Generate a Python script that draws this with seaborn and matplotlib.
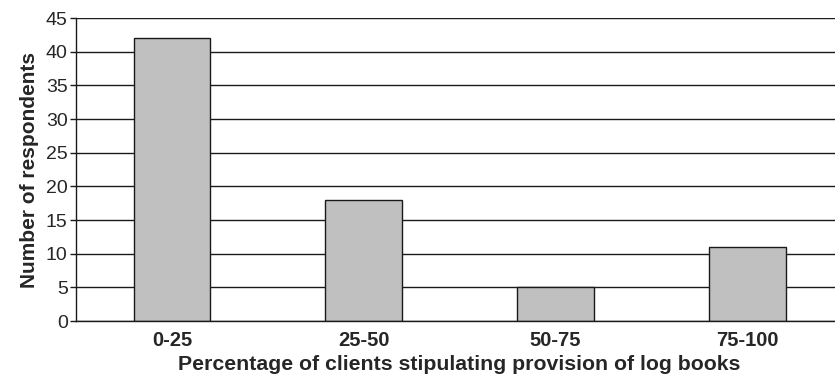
import matplotlib
matplotlib.use("Agg")
import matplotlib.pyplot as plt
import seaborn as sns
import pandas as pd

categories = ["0-25", "25-50", "50-75", "75-100"]
respondents = [42, 18, 5, 11]
y_ticks = [0, 5, 10, 15, 20, 25, 30, 35, 40, 45]

sns.set_style("white")
plt.rcParams["font.family"] = ["Liberation Sans", "DejaVu Sans"]

df = pd.DataFrame({"range": categories, "count": respondents})

fig = plt.figure(figsize=(8.35, 3.84), dpi=100)
ax = fig.add_axes([0.091, 0.164, 0.919, 0.789])
ax.set_axisbelow(True)
for t in y_ticks:
    ax.axhline(t, color="#1a1a1a", lw=1.0, zorder=0)

sns.barplot(data=df, x="range", y="count", color="#c0c0c0", width=0.4,
            edgecolor="#1a1a1a", linewidth=1.0, saturation=1, ax=ax, zorder=2)

ax.set_ylim(0, 45)
ax.set_xlim(-0.5, 3.5)
ax.set_yticks(y_ticks)
ax.set_yticklabels([str(t) for t in y_ticks], fontsize=14)
ax.set_xticks([0.5, 1.5, 2.5], minor=True)
ax.set_xticks(range(len(categories)))
ax.set_xticklabels(categories, fontsize=14.5, fontweight="bold")
ax.tick_params(axis="x", which="major", length=0, pad=7)
ax.tick_params(axis="x", which="minor", length=4, width=1, color="#1a1a1a", direction="out")
ax.tick_params(axis="y", length=4, width=1, color="#1a1a1a", direction="out", left=True, pad=2)

for s in ["top", "right"]:
    ax.spines[s].set_visible(False)
for s in ["left", "bottom"]:
    ax.spines[s].set_color("#1a1a1a")
    ax.spines[s].set_linewidth(1.0)

ax.set_xlabel("Percentage of clients stipulating provision of log books",
              fontsize=15.3, fontweight="bold", labelpad=4)
ax.set_ylabel("Number of respondents", fontsize=15, fontweight="bold", labelpad=5)

fig.savefig("out.png", dpi=100)
